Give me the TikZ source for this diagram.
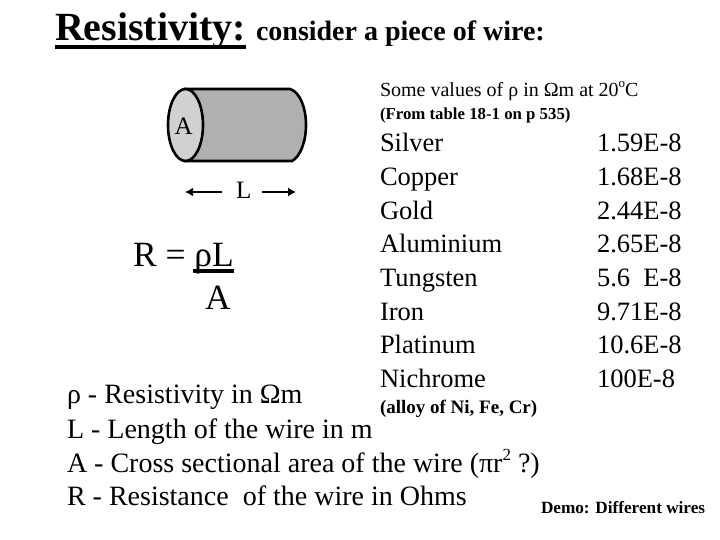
\documentclass[tikz,border=0pt]{standalone}
\usepackage{fontspec}
\setmainfont{Liberation Serif}
\usepackage{tikz}
\usetikzlibrary{positioning, arrows.meta}
\newcommand{\fsz}[1]{\fontsize{#1}{#1}\selectfont}

\begin{document}
\begin{tikzpicture}[
  x=1pt, y=-1pt,
  every node/.style={inner sep=0pt, outer sep=0pt, anchor=base west},
  body text/.style={font=\fsz{26.5}},
  legend text/.style={font=\fsz{28}},
  small text/.style={font=\fsz{16.8}\bfseries},
  formula text/.style={font=\fsz{35.5}},
  length arrow/.style={draw, -{Latex[length=8pt,width=9pt]}, line width=2.8pt}
]
\useasboundingbox (0,0) rectangle (720,540);

% title
\node (title) at (55,41) {\fsz{40}\bfseries\rlap{\rule[-8pt]{191pt}{3.5pt}}Resistivity:};
\node[font=\fsz{28}\bfseries] (subtitle) at (256,41) {consider a piece of wire:};

% wire
\draw[line width=2.6pt, fill=black!31] (185,89) -- (290,89)
  .. controls (300,92) and (306,108) .. (306,125)
  .. controls (306,142) and (300,157) .. (292,161) -- (185,161) -- cycle;
\draw[line width=2.6pt, fill=black!18] (185.5,125) ellipse (17.5 and 36);
\node[font=\fsz{25}] (areaA) at (174.5,135) {A};
\node[font=\fsz{25}] (lenL) at (236,199) {L};
\coordinate (arrowL) at (185,192);
\coordinate (arrowR) at (296,192);
\draw[length arrow] (lenL.west |- arrowL) ++(-14,0) coordinate (startL) -- (arrowL);
\draw[length arrow] (lenL.east |- arrowR) ++(11,0) coordinate (startR) -- (arrowR);

% formula
\node[formula text] (formula) at (133,266) {R = \rlap{\hspace{-1pt}\rule[-7pt]{41pt}{4pt}}ρL};
\node[formula text] (formulaA) at (205,309) {A};

% values
\node[font=\fsz{20}] (some) at (380,97) {Some values of ρ in Ωm at 20\raisebox{0.45em}{\fsz{13}o}C};
\node[small text] (from) at (380,120) {(From table 18-1 on p 535)};

\node[body text] (silver) at (380,152) {Silver};
\node[body text] (copper) at (380,185.5) {Copper};
\node[body text] (gold) at (380,219) {Gold};
\node[body text] (alu) at (380,252.5) {Aluminium};
\node[body text] (tung) at (380,286) {Tungsten};
\node[body text] (iron) at (380,320) {Iron};
\node[body text] (plat) at (380,353) {Platinum};
\node[body text] (nich) at (380,387) {Nichrome};
\node[font=\fsz{19}\bfseries] (alloy) at (380,413) {(alloy of Ni, Fe, Cr)};

\node[body text] (vsilver) at (597,152) {1.59E-8};
\node[body text] (vcopper) at (597,185.5) {1.68E-8};
\node[body text] (vgold) at (597,219) {2.44E-8};
\node[body text] (valu) at (597,252.5) {2.65E-8};
\node[body text] (vtung) at (597,286) {5.6\ \ E-8};
\node[body text] (viron) at (597,320) {9.71E-8};
\node[body text] (vplat) at (597,353) {10.6E-8};
\node[body text] (vnich) at (597,387) {100E-8};

% legend
\node[legend text] (rho) at (67,403) {ρ - Resistivity in Ωm};
\node[legend text] (len) at (67,438) {L - Length of the wire in m};
\node[legend text] (area) at (67,472) {A - Cross sectional area of the wire (πr\raisebox{0.4em}{\fsz{17}2} ?)};
\node[legend text] (res) at (67,505) {R - Resistance\ \ of the wire in Ohms};
\node[font=\fsz{17.2}\bfseries] (demo) at (541,513) {Demo: Different wires};

\end{tikzpicture}
\end{document}
